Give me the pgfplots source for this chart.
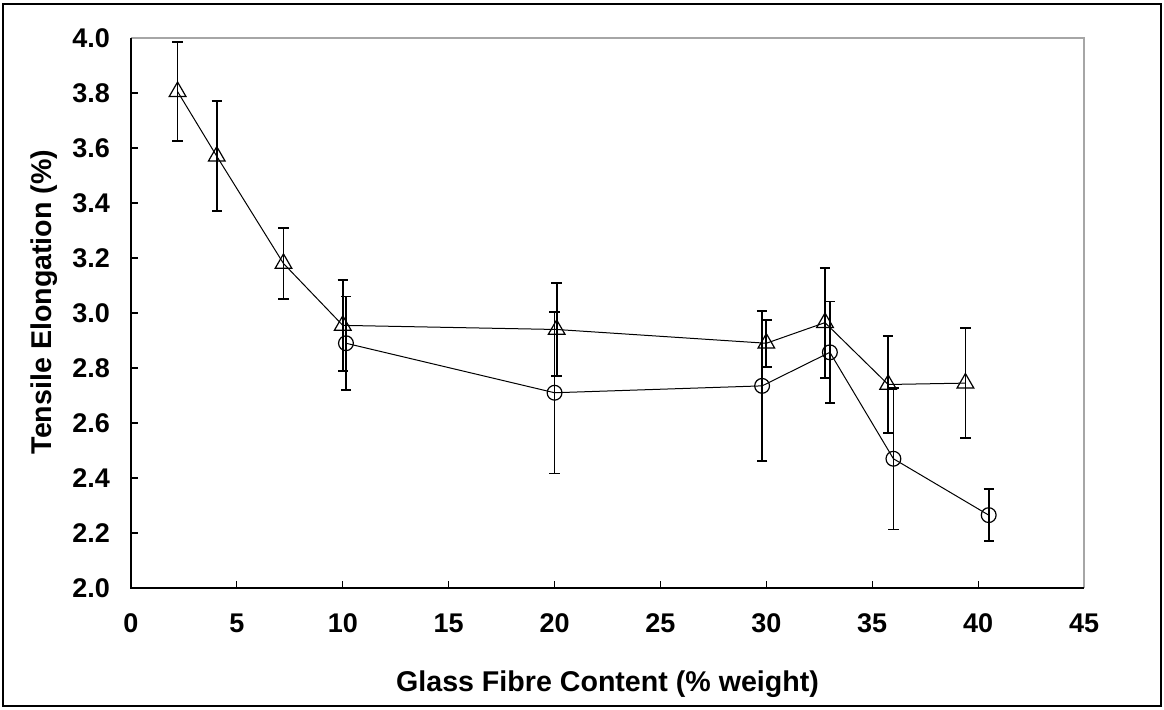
\documentclass[border=0pt]{standalone}
\usepackage{fontspec}
\setmainfont{Liberation Sans}
\usepackage{pgfplots}
\pgfplotsset{compat=1.18}
\usepackage{pgfplotstable}

\pgfplotstableread{
x y e
2.2 3.805 0.18
4.05 3.57 0.20
7.2 3.18 0.13
10.0 2.955 0.165
20.1 2.94 0.17
30.0 2.89 0.085
32.77 2.965 0.20
35.75 2.74 0.175
39.4 2.745 0.20
}\tridata

\pgfplotstableread{
x y e
10.15 2.89 0.17
20.0 2.71 0.294
29.8 2.735 0.273
33.0 2.857 0.185
36.0 2.47 0.257
40.5 2.265 0.095
}\circdata

\begin{document}
\begin{tikzpicture}
\begin{axis}[
  name=ax,
  at={(0,0)}, anchor=south west,
  scale only axis,
  width=476.5pt, height=275pt,
  xmin=0, xmax=45, ymin=2, ymax=4,
  xtick={0,5,...,45},
  ytick={2,2.2,...,4.01},
  xtick pos=left, ytick pos=left,
  tick align=inside,
  major tick length=3.5pt,
  tick style={black, line width=0.6pt},
  axis line style={draw=none},
  /pgf/number format/assume math mode=true,
  ticklabel style={font=\fontsize{13.5}{16}\selectfont\bfseries},
  yticklabel style={/pgf/number format/.cd, fixed, fixed zerofill, precision=1, /tikz/.cd, xshift=-7pt},
  xticklabel style={/pgf/number format/.cd, fixed, precision=0, /tikz/.cd, yshift=-9.5pt},
  xlabel={Glass Fibre Content (\% weight)},
  ylabel={Tensile Elongation (\%)},
  label style={font=\fontsize{14.3}{17}\selectfont\bfseries},
  xlabel style={at={(axis description cs:0.5,-0.189)}, anchor=base},
  ylabel style={at={(axis description cs:-0.083,0.52)}, anchor=base},
  clip=false,
]
\addplot[black, line width=0.5pt, mark=triangle, mark size=4.8pt,
  mark options={line width=0.6pt, fill=none},
  error bars/.cd, y dir=both, y explicit,
  error bar style={line width=0.9pt, black},
  error mark=-,
  error mark options={rotate=90, line width=0.9pt, mark size=2.6pt, black}]
  table[x=x, y=y, y error=e] {\tridata};
\addplot[black, line width=0.5pt, mark=o, mark size=3.7pt,
  mark options={line width=0.6pt, fill=none},
  error bars/.cd, y dir=both, y explicit,
  error bar style={line width=0.9pt, black},
  error mark=-,
  error mark options={rotate=90, line width=0.9pt, mark size=2.6pt, black}]
  table[x=x, y=y, y error=e] {\circdata};
\end{axis}
\draw[gray!70, line width=0.75pt] (ax.north west) -- (ax.north east) -- (ax.south east);
\draw[black, line width=0.6pt] (ax.north west) -- (ax.south west) -- (ax.south east);
\draw[black, line width=1.2pt] ([shift={(-64pt,-59pt)}]ax.south west) rectangle ([shift={(38.5pt,17pt)}]ax.north east);
\useasboundingbox ([shift={(-65.5pt,-61pt)}]ax.south west) rectangle ([shift={(40pt,19pt)}]ax.north east);
\end{tikzpicture}
\end{document}
